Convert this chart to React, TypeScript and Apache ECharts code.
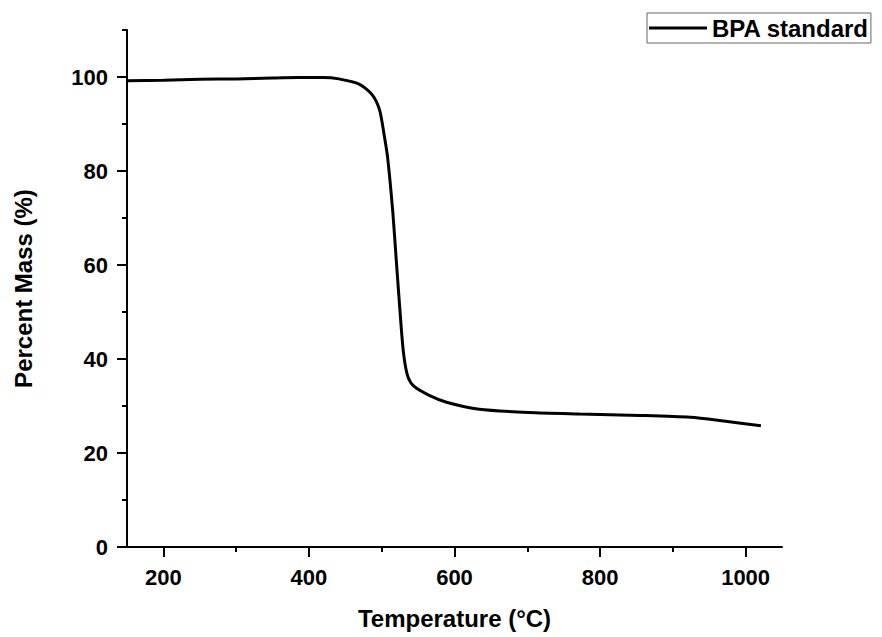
import React, { useEffect, useRef } from "react";
import * as echarts from "echarts";

const temperature = [150, 200, 250, 300, 350, 386, 420, 441, 469, 487, 497, 503, 508, 515, 520, 525, 530, 536, 545, 566, 589, 634, 703, 772, 855, 924, 970, 1021];
const percentMass = [99.2, 99.3, 99.5, 99.6, 99.8, 99.9, 99.9, 99.6, 98.5, 96.2, 93.0, 88.0, 83.0, 71.7, 61.0, 50.4, 41.2, 36.2, 34.1, 32.2, 30.8, 29.3, 28.6, 28.3, 28.0, 27.6, 26.8, 25.8];
const xMajorTicks = [200, 400, 600, 800, 1000];
const xMinorTicks = [300, 500, 700, 900];
const yMajorTicks = [0, 20, 40, 60, 80, 100];
const yMinorTicks = [10, 30, 50, 70, 90, 110];
const seriesName = "BPA standard";

const FONT = "'Liberation Sans', Arial, sans-serif";

export default function App() {
  const ref = useRef<HTMLDivElement>(null);
  useEffect(() => {
    if (!ref.current) return;
    const chart = echarts.init(ref.current, null, { renderer: "svg" });
    const axisLine = { show: true, lineStyle: { color: "#000", width: 2 } };
    const baseX = { type: "value", min: 150, max: 1050, splitLine: { show: false }, position: "bottom" };
    const baseY = { type: "value", min: 0, max: 110, splitLine: { show: false }, position: "left" };
    chart.setOption({
      animation: false,
      backgroundColor: "#fff",
      grid: { left: 127, right: 100, top: 30, bottom: 90 },
      legend: {
        data: [seriesName],
        left: 647,
        top: 13,
        padding: [3, 2, 3, 2],
        borderColor: "#666",
        borderWidth: 1,
        icon: "rect",
        itemWidth: 58,
        itemHeight: 3,
        textStyle: { fontFamily: FONT, fontWeight: "bold", fontSize: 24, color: "#000" },
      },
      xAxis: [
        {
          ...baseX,
          axisLine,
          axisTick: { show: true, customValues: xMajorTicks, length: 10, lineStyle: { color: "#000", width: 2 } },
          axisLabel: {
            customValues: xMajorTicks,
            formatter: (v: number) => String(v),
            margin: 19,
            fontFamily: FONT,
            fontWeight: "bold",
            fontSize: 22,
            color: "#000",
          },
          name: "Temperature (°C)",
          nameLocation: "middle",
          nameGap: 59,
          nameTextStyle: { fontFamily: FONT, fontWeight: "bold", fontSize: 24, color: "#000" },
        },
        {
          ...baseX,
          axisLine: { show: false },
          axisTick: { show: true, customValues: xMinorTicks, length: 5, lineStyle: { color: "#000", width: 2 } },
          axisLabel: { show: false },
        },
      ],
      yAxis: [
        {
          ...baseY,
          axisLine,
          axisTick: { show: true, customValues: yMajorTicks, length: 10, lineStyle: { color: "#000", width: 2 } },
          axisLabel: {
            customValues: yMajorTicks,
            formatter: (v: number) => String(v),
            margin: 19,
            fontFamily: FONT,
            fontWeight: "bold",
            fontSize: 22,
            color: "#000",
          },
          name: "Percent Mass (%)",
          nameLocation: "middle",
          nameGap: 92,
          nameTextStyle: { fontFamily: FONT, fontWeight: "bold", fontSize: 24, color: "#000" },
        },
        {
          ...baseY,
          axisLine: { show: false },
          axisTick: { show: true, customValues: yMinorTicks, length: 5, lineStyle: { color: "#000", width: 2 } },
          axisLabel: { show: false },
        },
      ],
      series: [
        {
          name: seriesName,
          type: "line",
          xAxisIndex: 0,
          yAxisIndex: 0,
          data: temperature.map((t, i) => [t, percentMass[i]]),
          showSymbol: false,
          smooth: 0.25,
          lineStyle: { color: "#000", width: 3 },
          itemStyle: { color: "#000" },
        },
      ],
    });
    return () => chart.dispose();
  }, []);
  return <div ref={ref} style={{ position: "fixed", left: 0, top: 0, width: 882, height: 637 }} />;
}
